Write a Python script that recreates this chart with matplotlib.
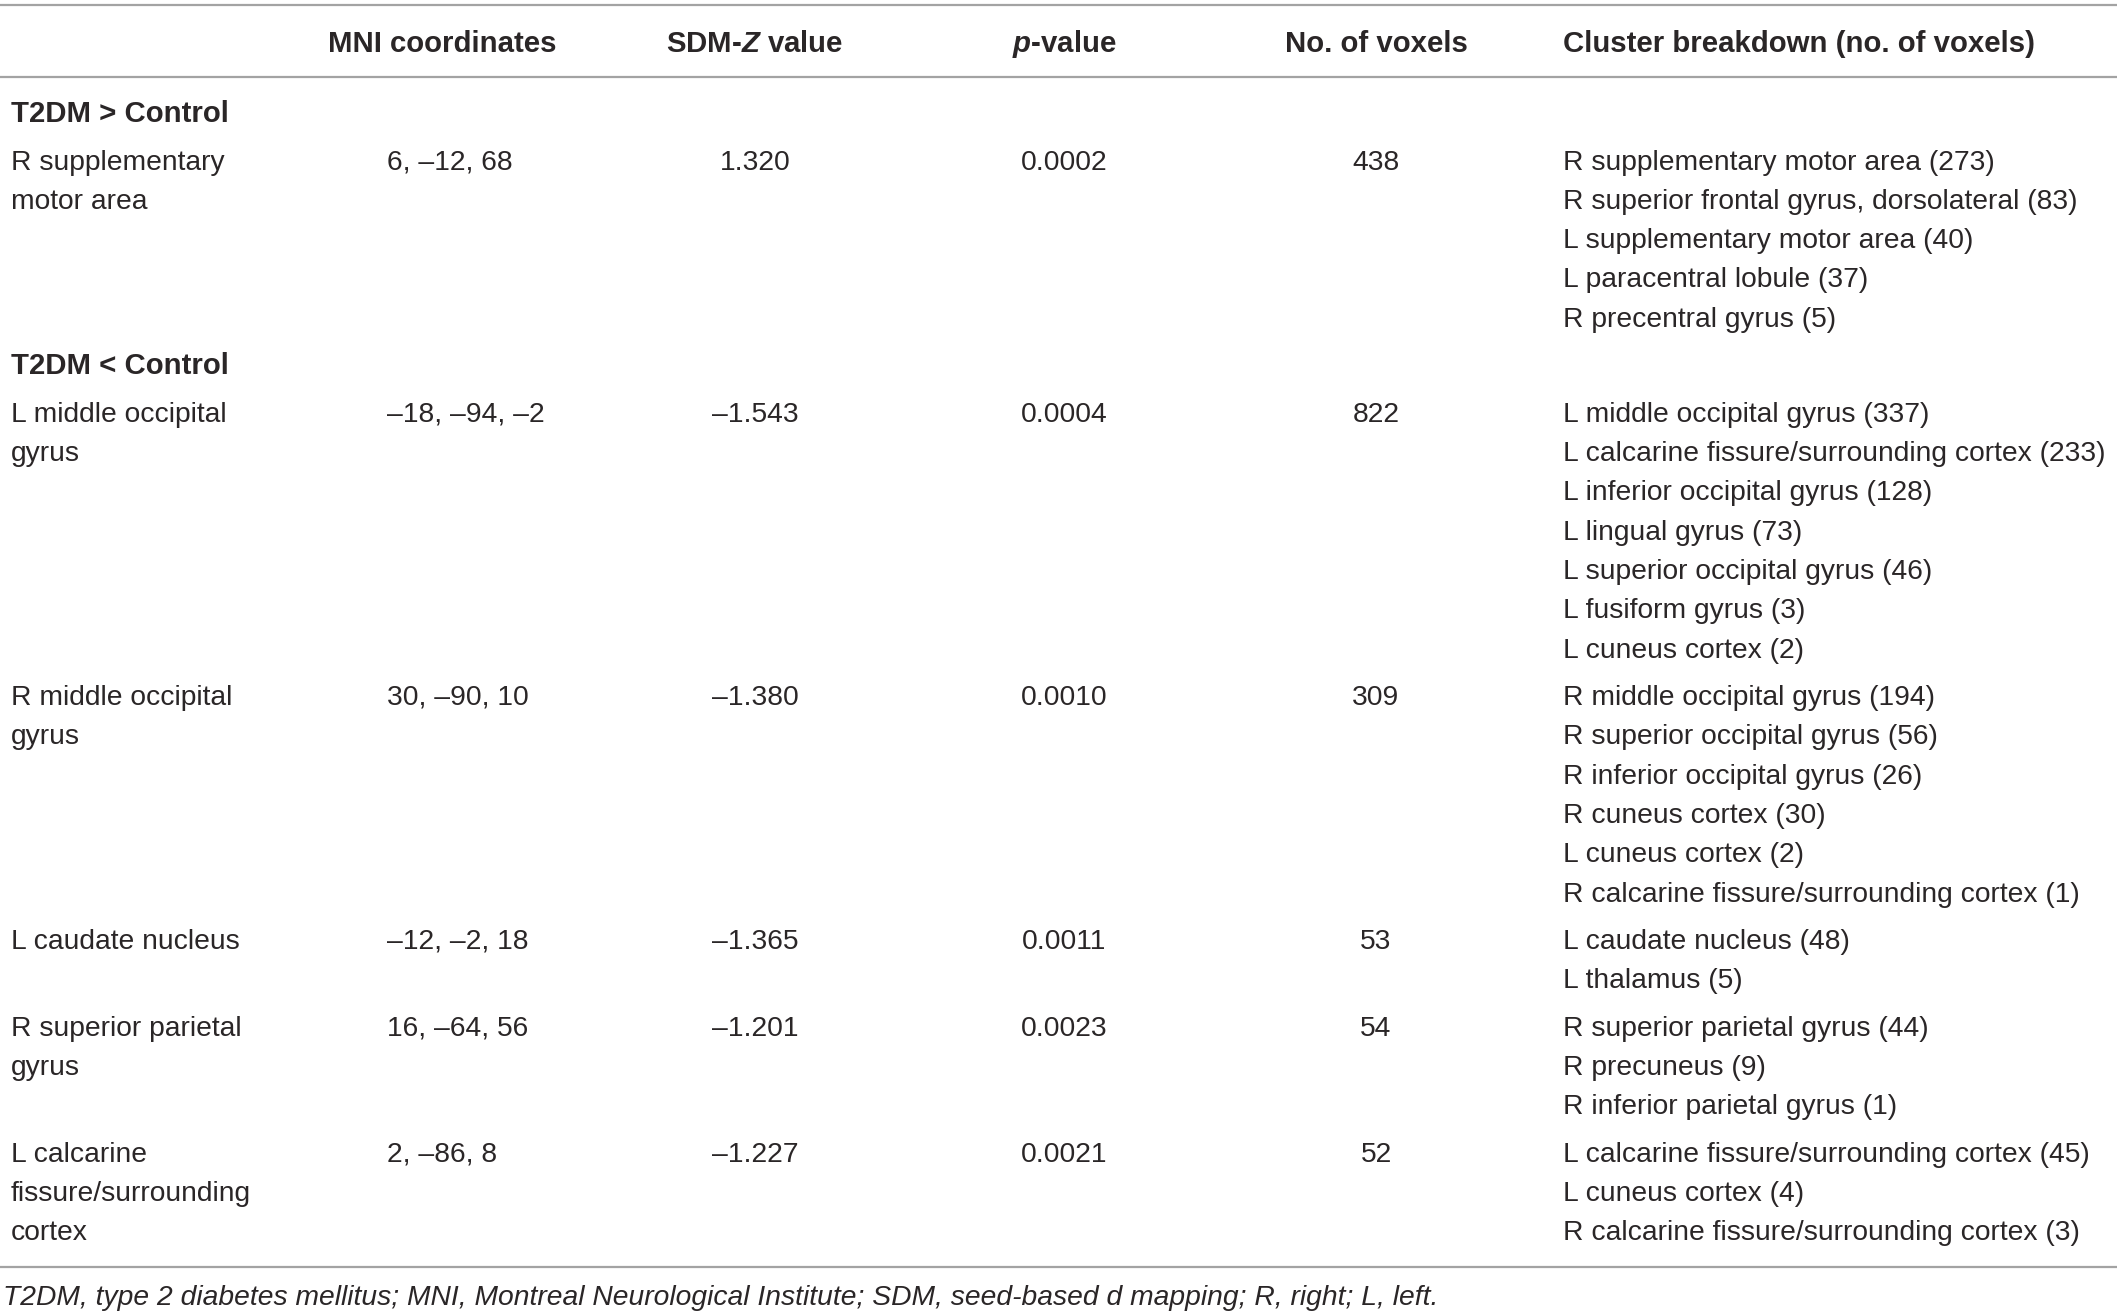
import numpy as np, matplotlib; matplotlib.use("Agg"); import matplotlib.pyplot as plt
from matplotlib import font_manager as fm

names = {f.name for f in fm.fontManager.ttflist}
FONT = "Liberation Sans Narrow" if "Liberation Sans Narrow" in names else "Liberation Sans"
plt.rcParams["font.family"] = [FONT, "DejaVu Sans"]
plt.rcParams["mathtext.fontset"] = "custom"
plt.rcParams["mathtext.bfit"] = f"{FONT}:italic:bold"
plt.rcParams["mathtext.it"] = f"{FONT}:italic"

# ---- table data ----
headers = ["", "MNI coordinates", r"SDM-$\mathbfit{Z}$ value", r"$\mathbfit{p}$-value",
           "No. of voxels", "Cluster breakdown (no. of voxels)"]
sections = ["T2DM > Control", "T2DM < Control"]
row_section = [0, 1, 1, 1, 1, 1]
regions = ["R supplementary\nmotor area", "L middle occipital\ngyrus", "R middle occipital\ngyrus",
           "L caudate nucleus", "R superior parietal\ngyrus", "L calcarine\nfissure/surrounding\ncortex"]
mni = ["6, –12, 68", "–18, –94, –2", "30, –90, 10", "–12, –2, 18", "16, –64, 56", "2, –86, 8"]
sdm_z = [1.320, -1.543, -1.380, -1.365, -1.201, -1.227]
p_values = [0.0002, 0.0004, 0.0010, 0.0011, 0.0023, 0.0021]
n_voxels = [438, 822, 309, 53, 54, 52]
clusters = [
    ["R supplementary motor area (273)", "R superior frontal gyrus, dorsolateral (83)",
     "L supplementary motor area (40)", "L paracentral lobule (37)", "R precentral gyrus (5)"],
    ["L middle occipital gyrus (337)", "L calcarine fissure/surrounding cortex (233)",
     "L inferior occipital gyrus (128)", "L lingual gyrus (73)", "L superior occipital gyrus (46)",
     "L fusiform gyrus (3)", "L cuneus cortex (2)"],
    ["R middle occipital gyrus (194)", "R superior occipital gyrus (56)",
     "R inferior occipital gyrus (26)", "R cuneus cortex (30)", "L cuneus cortex (2)",
     "R calcarine fissure/surrounding cortex (1)"],
    ["L caudate nucleus (48)", "L thalamus (5)"],
    ["R superior parietal gyrus (44)", "R precuneus (9)", "R inferior parietal gyrus (1)"],
    ["L calcarine fissure/surrounding cortex (45)", "L cuneus cortex (4)",
     "R calcarine fissure/surrounding cortex (3)"],
]
footnote = ("T2DM, type 2 diabetes mellitus; MNI, Montreal Neurological Institute; "
            "SDM, seed-based d mapping; R, right; L, left.")

# ---- layout (pixel coordinates) ----
W, H = 2117, 1316
col_x = [11, 387, 755, 1064, 1376, 1563]
col_ha = ["left", "left", "center", "center", "center", "left"]
hdr_x = [11, 442, 755, 1064, 1376, 1563]
hdr_ha = ["left", "center", "center", "center", "center", "left"]
PITCH, GAP, CAP = 39.3, 47.5, 10
TXT, LINE = "#2a2627", "#a3a3a3"
FS, FS_H = 20.3, 21.2

fig = plt.figure(figsize=(W / 100, H / 100), dpi=100)
ax = fig.add_axes([0, 0, 1, 1]); ax.set_xlim(0, W); ax.set_ylim(H, 0); ax.axis("off")

def put(x, yc, s, ha="left", **kw):
    ax.text(x, yc + CAP, s, ha=ha, va="baseline", color=TXT, fontsize=kw.pop("fs", FS), **kw)

for yl in (5, 77):
    ax.axhline(yl, color=LINE, lw=1.6)
for x, ha, h in zip(hdr_x, hdr_ha, headers):
    if h: put(x, 42, h, ha=ha, fs=FS_H, fontweight="bold")

y = 112; cur_sec = -1
for i in range(len(regions)):
    if row_section[i] != cur_sec:
        if cur_sec != -1: y += GAP
        cur_sec = row_section[i]
        put(col_x[0], y, sections[cur_sec], fs=FS_H, fontweight="bold")
        y += GAP
    name_lines = regions[i].split("\n")
    cells = [f"{mni[i]}", f"{sdm_z[i]:.3f}".replace("-", "–"), f"{p_values[i]:.4f}", f"{n_voxels[i]}"]
    for k, s in enumerate(name_lines):
        put(col_x[0], y + k * PITCH, s)
    for c, s in enumerate(cells, start=1):
        put(col_x[c], y, s, ha=col_ha[c])
    for k, s in enumerate(clusters[i]):
        put(col_x[5], y + k * PITCH, s)
    n = max(len(name_lines), len(clusters[i]))
    y += (n - 1) * PITCH
    if i < len(regions) - 1 and row_section[i + 1] == cur_sec:
        y += GAP

ybot = y + 37
ax.axhline(ybot, color=LINE, lw=1.6)
put(3, ybot + 28, footnote, style="italic")

fig.savefig("out.png", dpi=100)
